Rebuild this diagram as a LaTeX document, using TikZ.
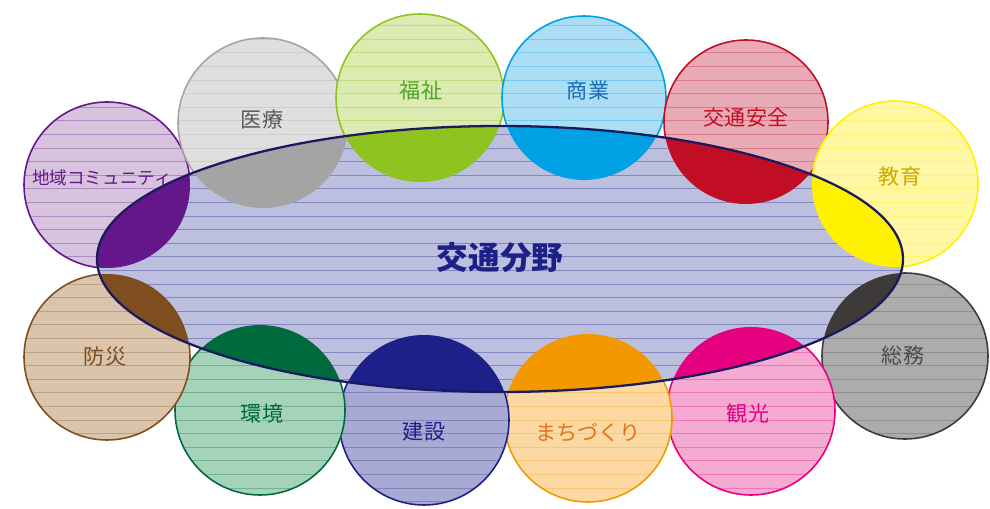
\documentclass[tikz,border=0pt]{standalone}
\usepackage{fontspec}
\newfontfamily\cjk{Noto Sans CJK JP}
\definecolor{ellfill}{HTML}{BDBFDF}
\definecolor{ellline}{HTML}{1A1A5E}
\definecolor{cPurple}{HTML}{64168A}\definecolor{lPurple}{HTML}{D8C3DE}
\definecolor{cGray}{HTML}{A4A4A4}\definecolor{lGray}{HTML}{DFDFDF}
\definecolor{cGreen}{HTML}{8FC31F}\definecolor{lGreen}{HTML}{DBEBB2}
\definecolor{cBlue}{HTML}{00A0E4}\definecolor{lBlue}{HTML}{ABDDF5}
\definecolor{cRed}{HTML}{C20E25}\definecolor{lRed}{HTML}{E8AAB4}
\definecolor{cYellow}{HTML}{FFF100}\definecolor{lYellow}{HTML}{FFF7A3}
\definecolor{cDGray}{HTML}{3E3A39}\definecolor{lDGray}{HTML}{ACACAC}
\definecolor{cPink}{HTML}{E4007F}\definecolor{lPink}{HTML}{F5ABD1}
\definecolor{cOrange}{HTML}{F39800}\definecolor{lOrange}{HTML}{FCD9A2}
\definecolor{cNavy}{HTML}{1D2088}\definecolor{lNavy}{HTML}{A8AAD4}
\definecolor{cDGreen}{HTML}{00693E}\definecolor{lDGreen}{HTML}{A5D3B9}
\definecolor{cBrown}{HTML}{7E4E20}\definecolor{lBrown}{HTML}{DAC4AB}
\definecolor{tGreen}{HTML}{4FA52E}
\definecolor{tBlue}{HTML}{1C6EB4}
\definecolor{tYellow}{HTML}{CDA900}
\definecolor{tOrange}{HTML}{E5711A}
\definecolor{tGray}{HTML}{595959}
\definecolor{tDGray}{HTML}{4A4A4A}
\newcommand\stripes[1]{\foreach \k in {0,...,38} \draw[#1, line width=0.45pt] (0,{\k*13.6+12}) -- (990,{\k*13.6+12});}
\newcommand\bubble[5]{% cx, cy, r, light, dark
  \begin{scope}
    \clip (#1,#2) circle (#3);
    \fill[#4] (#1,#2) circle (#3);
    \stripes{#5!70!white, opacity=.55}
  \end{scope}
  \draw[#5, line width=0.9pt] (#1,#2) circle (#3);
}
\newcommand\core[4]{% cx, cy, r, dark
  \begin{scope}
    \clip (500,259) ellipse [x radius=403, y radius=133];
    \fill[#4] (#1,#2) circle (#3);
  \end{scope}
}
\begin{document}
\begin{tikzpicture}[x=0.02cm,y=-0.02cm,
  lab/.style={font=\cjk\fontsize{12}{14}\selectfont, inner sep=0pt},
  smalllab/.style={font=\cjk\fontsize{10}{12}\selectfont, inner sep=0pt},
  mainlab/.style={font=\cjk\bfseries\fontsize{18}{20}\selectfont, inner sep=0pt, text=cNavy}]
\useasboundingbox (0,0) rectangle (990,509);
% light circles
\bubble{107}{185}{83}{lPurple}{cPurple}
\bubble{263}{123}{85}{lGray}{cGray}
\bubble{420}{98}{84}{lGreen}{cGreen}
\bubble{584}{98}{82}{lBlue}{cBlue}
\bubble{746}{122}{82}{lRed}{cRed}
\bubble{895}{184}{83}{lYellow}{cYellow}
\bubble{905}{356}{83}{lDGray}{cDGray}
\bubble{751}{411}{84}{lPink}{cPink}
\bubble{588}{418}{84}{lOrange}{cOrange}
\bubble{424}{420}{85}{lNavy}{cNavy}
\bubble{260}{410}{85}{lDGreen}{cDGreen}
\bubble{107}{357}{83}{lBrown}{cBrown}
% ellipse
\begin{scope}
  \clip (500,259) ellipse [x radius=403, y radius=133];
  \fill[ellfill] (500,259) ellipse [x radius=403, y radius=133];
  \stripes{cNavy, opacity=.35}
\end{scope}
% saturated cores
\core{107}{185}{83}{cPurple}
\core{263}{123}{85}{cGray}
\core{420}{98}{84}{cGreen}
\core{584}{98}{82}{cBlue}
\core{746}{122}{82}{cRed}
\core{895}{184}{83}{cYellow}
\core{905}{356}{83}{cDGray}
\core{751}{411}{84}{cPink}
\core{588}{418}{84}{cOrange}
\core{424}{420}{85}{cNavy}
\core{260}{410}{85}{cDGreen}
\core{107}{357}{83}{cBrown}
\draw[ellline, line width=1.3pt] (500,259) ellipse [x radius=403, y radius=133];
% labels
\node[smalllab, text=cPurple] (community) at (102,178) {地域コミュニティ};
\node[lab, text=tGray] (iryo) at (262,120) {医療};
\node[lab, text=tGreen] (fukushi) at (421,90) {福祉};
\node[lab, text=tBlue] (shogyo) at (588,90) {商業};
\node[lab, text=cRed] (anzen) at (746,118) {交通安全};
\node[lab, text=tYellow] (kyoiku) at (900,177) {教育};
\node[lab, text=tDGray] (somu) at (903,355) {総務};
\node[lab, text=cPink] (kanko) at (748,414) {観光};
\node[lab, text=tOrange] (machi) at (588,432) {まちづくり};
\node[lab, text=cNavy] (kensetsu) at (424,432) {建設};
\node[lab, text=cDGreen] (kankyo) at (262,414) {環境};
\node[lab, text=cBrown] (bosai) at (105,357) {防災};
\node[mainlab] (kotsu) at (500,258) {交通分野};
\end{tikzpicture}
\end{document}
